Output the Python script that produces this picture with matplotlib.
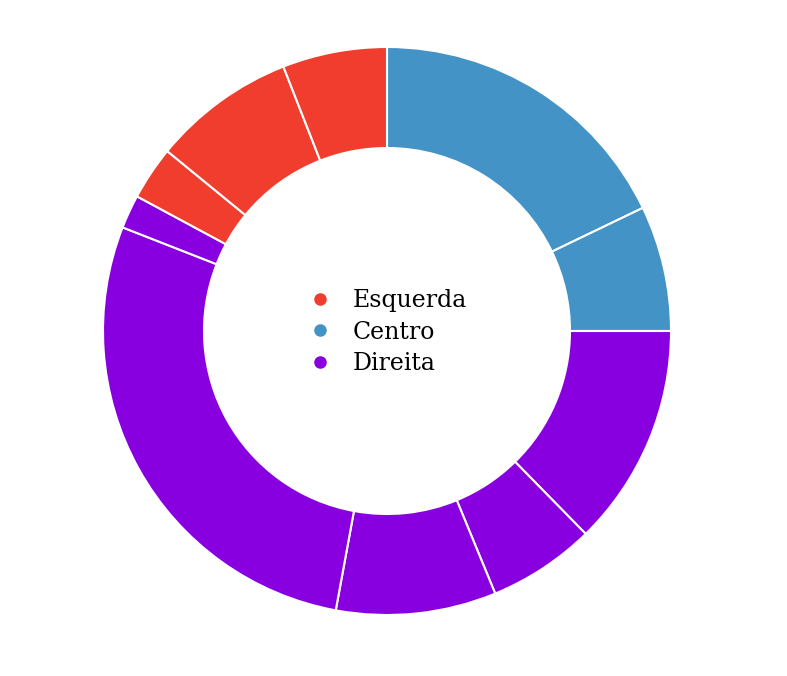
import matplotlib
matplotlib.use("Agg")
import matplotlib.pyplot as plt
from matplotlib.lines import Line2D

groups = ["Centro", "Centro", "Direita", "Direita", "Direita", "Direita", "Direita",
          "Esquerda", "Esquerda", "Esquerda"]
values = [64.3, 25.7, 45.6, 22.0, 32.8, 101.0, 6.9, 11.0, 29.3, 21.4]
legend_labels = ["Esquerda", "Centro", "Direita"]
palette = {"Esquerda": "#f03d2e", "Centro": "#4393c6", "Direita": "#8800e0"}

W, H = 787, 676
fig = plt.figure(figsize=(W / 100, H / 100), dpi=100)
ax = fig.add_axes([0, 0, 1, 1])
ax.set_xlim(0, W)
ax.set_ylim(0, H)
ax.set_aspect("equal")
ax.axis("off")

ax.pie(values, colors=[palette[g] for g in groups], startangle=90, counterclock=False,
       radius=284, center=(387, H - 331),
       wedgeprops=dict(width=101, edgecolor="white", linewidth=1.5))
ax.set_xlim(0, W)
ax.set_ylim(0, H)

fs = 17
handles = [Line2D([], [], linestyle="none", marker="o", markersize=8,
                  markerfacecolor=palette[l], markeredgecolor=palette[l]) for l in legend_labels]
leg = ax.legend(handles, legend_labels, loc="upper left", bbox_to_anchor=(306 / W, 1 - 289 / H),
                bbox_transform=fig.transFigure, frameon=False, borderpad=0, borderaxespad=0,
                prop=dict(family="DejaVu Serif", size=fs), handletextpad=0.76,
                labelspacing=0.37, handlelength=1.2)

fig.savefig("out.png", dpi=100, facecolor="white")
